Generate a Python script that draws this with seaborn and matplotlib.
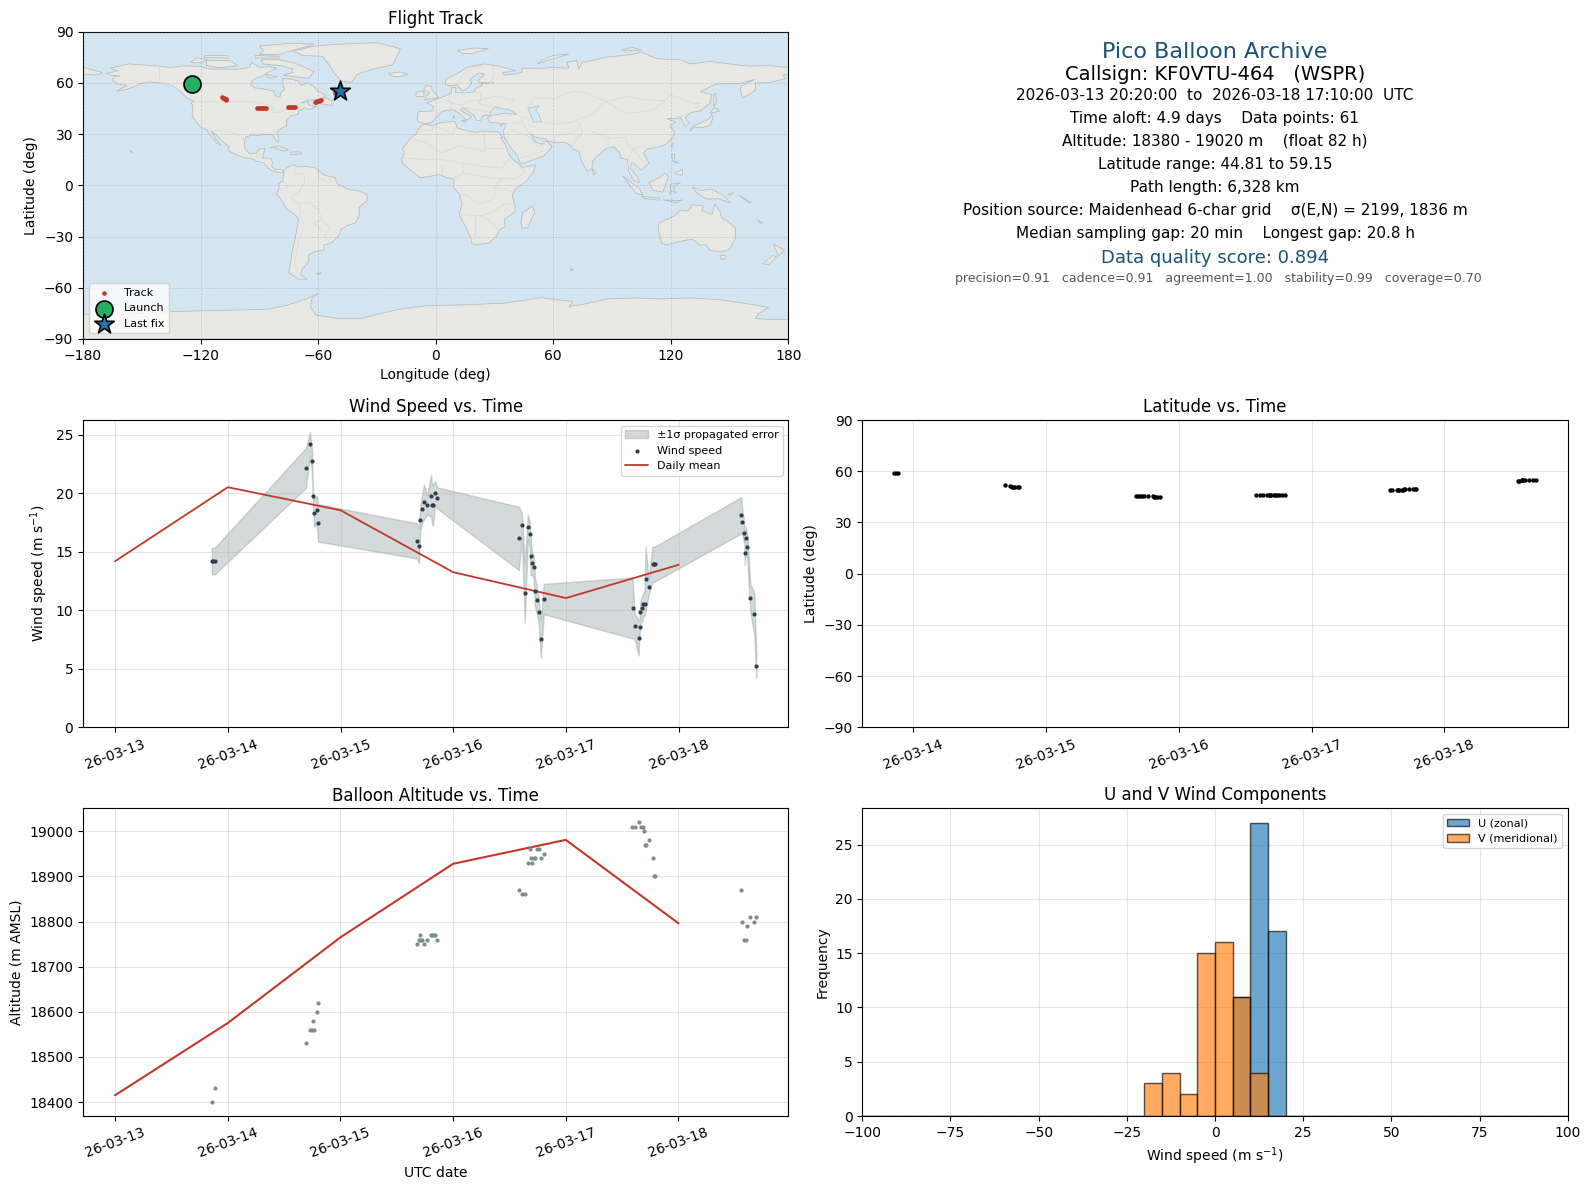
import matplotlib
matplotlib.use('Agg')
import matplotlib.dates as mdates
import matplotlib.pyplot as plt
import numpy as np
import pandas as pd
import seaborn as sns

# days since 2026-03-13 00:00 UTC
wind_days = [0.858, 0.870, 0.885, 1.693, 1.728, 1.746, 1.755, 1.764, 1.790, 1.800,
             2.678, 2.696, 2.705, 2.723, 2.741, 2.767, 2.803, 2.812, 2.820, 2.838, 2.856,
             3.581, 3.608, 3.634, 3.661, 3.678, 3.687, 3.696, 3.714, 3.723, 3.740, 3.758, 3.776, 3.802,
             4.590, 4.608, 4.643, 4.652, 4.660, 4.678, 4.687, 4.696, 4.705, 4.732, 4.767, 4.776, 4.785,
             5.555, 5.563, 5.581, 5.585, 5.595, 5.608, 5.634, 5.670, 5.687]
wind_speed = [14.23, 14.23, 14.23, 22.18, 24.23, 22.78, 19.79, 18.33, 18.59, 17.48,
              15.94, 15.51, 17.74, 18.68, 19.27, 19.02, 19.79, 19.02, 19.02, 20.04, 19.62,
              16.16, 17.27, 11.48, 17.10, 16.51, 14.63, 14.03, 13.69, 11.65, 10.88, 9.86, 7.56, 10.97,
              10.20, 8.66, 7.64, 8.58, 9.86, 10.20, 10.54, 10.54, 12.67, 11.99, 13.95, 13.95, 13.95,
              18.13, 17.53, 16.59, 14.89, 16.16, 15.40, 11.05, 9.69, 5.26]
wind_err = [1.14, 1.14, 1.14, 1.7, 1.0, 1.0, 0.5, 1.2, 1.2, 1.6,
            1.5, 1.5, 1.0, 1.2, 1.5, 0.8, 1.8, 1.7, 1.7, 1.0, 0.9,
            2.7, 1.1, 2.6, 1.05, 1.1, 1.6, 1.0, 1.0, 1.2, 1.2, 1.0, 1.65, 1.3,
            2.6, 1.1, 1.5, 0.7, 1.0, 1.1, 1.0, 1.0, 2.8, 0.7, 1.5, 1.5, 1.5,
            1.55, 1.0, 1.0, 1.0, 1.0, 1.0, 1.2, 1.8, 1.0]
mean_days = [0, 1, 2, 3, 4, 5]
wind_mean = [14.2, 20.53, 18.56, 13.26, 11.05, 13.9]
alt_mean = [18415, 18575, 18765, 18928, 18981, 18796]

alt_days = [0.858, 0.885, 1.693, 1.728, 1.746, 1.764, 1.755, 1.790, 1.800,
            2.678, 2.696, 2.705, 2.708, 2.723, 2.741, 2.767, 2.803, 2.812, 2.830, 2.838, 2.856,
            3.584, 3.610, 3.637, 3.681, 3.743, 3.761, 3.690, 3.717, 3.726, 3.664, 3.699, 3.779, 3.805,
            4.584, 4.611, 4.652, 4.664, 4.681, 4.690, 4.734, 4.700, 4.708, 4.770, 4.779, 4.788,
            5.557, 5.566, 5.637, 5.690, 5.673, 5.611, 5.584, 5.596]
altitude = [18400, 18430, 18530, 18560, 18560, 18560, 18580, 18600, 18620,
            18750, 18760, 18770, 18760, 18760, 18750, 18760, 18770, 18770, 18770, 18770, 18760,
            18870, 18860, 18860, 18960, 18960, 18960, 18940, 18940, 18940, 18930, 18930, 18940, 18950,
            19010, 19010, 19020, 19010, 19010, 19000, 18980, 18970, 18970, 18940, 18900, 18900,
            18870, 18800, 18810, 18810, 18800, 18790, 18760, 18760]

lat_days = wind_days
latitude = [59.15, 59.1, 58.9, 51.9, 51.3, 51.0, 50.9, 50.6, 50.5, 50.5,
            45.5, 45.5, 45.5, 45.5, 45.5, 45.4, 45.3, 45.1, 45.0, 44.9, 44.81,
            46.0, 46.0, 46.0, 46.0, 46.0, 46.0, 46.0, 46.0, 46.0, 46.0, 46.0, 46.0, 46.0,
            48.9, 48.9, 48.9, 49.0, 49.0, 49.1, 49.2, 49.3, 49.5, 49.5, 49.5, 49.5, 49.5,
            54.2, 54.5, 54.7, 54.8, 54.8, 54.8, 54.8, 54.8, 54.8]

track_lon = [-124.6, -124.5, -124.3,
             -109.0, -108.5, -108.0, -107.5, -107.0, -106.8,
             -91.2, -90.4, -89.6, -88.8, -88.0, -87.2, -86.5,
             -75.6, -74.8, -74.0, -73.2, -72.4, -71.6,
             -61.8, -61.1, -60.4, -59.7, -59.1, -58.6,
             -51.5, -50.5, -49.0]
track_lat = [59.1, 59.1, 59.0,
             51.6, 51.3, 50.9, 50.6, 50.3, 50.1,
             45.0, 45.0, 45.0, 45.0, 45.0, 45.0, 45.0,
             45.6, 45.6, 45.6, 45.6, 45.6, 45.7,
             48.5, 48.8, 49.1, 49.5, 49.8, 50.1,
             54.0, 54.5, 55.1]
launch_lon, launch_lat = -124.6, 59.1
last_lon, last_lat = -49.0, 55.1

hist_edges = list(range(-100, 105, 5))
hist_centers = [e + 2.5 for e in hist_edges[:-1]]
u_counts = {7.5: 11, 12.5: 27, 17.5: 17}
v_counts = {-17.5: 3, -12.5: 4, -7.5: 2, -2.5: 15, 2.5: 16, 7.5: 11, 12.5: 4}

# text, size, colour, y in pixels, x nudge in pixels
info_lines = [
    ('Pico Balloon Archive', 16, '#1a5276', 51.7, 0),
    ('Callsign: KF0VTU-464   (WSPR)', 14, 'black', 74, 0),
    ('2026-03-13 20:20:00  to  2026-03-18 17:10:00  UTC', 11, 'black', 95.4, 0),
    ('Time aloft: 4.9 days    Data points: 61', 11, 'black', 118.7, 0),
    ('Altitude: 18380 - 19020 m    (float 82 h)', 11, 'black', 141.3, 0),
    ('Latitude range: 44.81 to 59.15', 11, 'black', 164.4, 0),
    ('Path length: 6,328 km', 11, 'black', 187.7, 0),
    ('Position source: Maidenhead 6-char grid    σ(E,N) = 2199, 1836 m', 11, 'black', 210.6, 0),
    ('Median sampling gap: 20 min    Longest gap: 20.8 h', 11, 'black', 233.4, 0),
    ('Data quality score: 0.894', 13, '#1a5276', 258.2, 0),
    ('precision=0.91   cadence=0.91   agreement=1.00   stability=0.99   coverage=0.70', 9, '#555555', 279, 3),
]

# background map, rough hand traced outlines (lon, lat)
LAND = [
    # north america
    [(-168,65.5),(-164,66.5),(-162,67),(-166,68.5),(-157,71),(-150,70.5),(-141,69.7),(-135,69),(-128,70),(-120,69.5),
     (-115,68),(-108,68),(-100,68),(-95,69),(-94,72),(-90,69),(-85,69.5),(-81,68.5),(-86,66),(-88,64),(-93,62),
     (-94.5,59),(-92.5,57),(-88,56.5),(-82.5,55),(-82,52.5),(-79.5,51.5),(-79,54.5),(-77,56),(-78,58.5),(-78,62.5),
     (-73,62),(-70,61),(-69,58.5),(-65,60),(-62,57.5),(-60,55),(-56,52.5),(-59,50),(-65,50),(-69,48),(-65,49),(-65,47),
     (-61,46),(-64,44.5),(-67,45),(-70,43.5),(-70,41.7),(-74,40.5),(-76,38),(-76,35),(-79,33),(-81,31),(-80,27),
     (-80.5,25),(-82,27),(-83,29.5),(-85,29.7),(-89,30),(-90,29),(-94,29.5),(-97,28),(-97.5,25),(-97.5,22),(-95,18.5),
     (-91.5,18.5),(-90.5,21),(-87,21.5),(-88,18),(-88.5,16),(-84,15.8),(-83.3,13),(-83.7,10.8),(-81.5,9),(-79.5,9.5),
     (-77.5,8.5),(-78.5,7.5),(-80.5,7.5),(-83,8.3),(-85.5,10),(-87.5,13),(-91,14),(-94.5,16),(-97,15.8),(-102,18),
     (-105.5,20),(-105.5,22.5),(-109,26),(-112.5,30),(-114.7,31.7),(-112,26.5),(-109.5,23),(-112,25),(-115,29),
     (-117,32.5),(-120.5,34.5),(-122.5,37.5),(-124.3,40.5),(-124,46),(-124.7,48.4),(-123,49),(-127,51),(-130,54.5),
     (-134,58),(-138,59.5),(-146,60.5),(-151,59.5),(-153,58),(-158,56),(-163,55),(-157.5,58.5),(-162,59),(-165,61.5),
     (-164,63.5),(-161,64),(-166,64.5)],
    # arctic islands
    [(-80,73.5),(-72,71.5),(-67,69),(-62,66.5),(-65,62.5),(-72,63.5),(-78,64.5),(-73,66),(-73,68),(-79,70),(-88,71),(-89,73.5)],
    [(-117,73),(-105,73),(-101,70),(-110,68.8),(-117,70)],
    [(-90,76.5),(-80,76.5),(-76,78),(-65,81.5),(-62,82.7),(-75,83),(-90,81.5),(-88,79)],
    [(-92,76),(-80,75.5),(-80,74.5),(-92,74.5)],
    [(-118,76),(-106,76),(-106,74.5),(-118,74.8)],
    [(-125,72),(-120,71.5),(-116,73.5),(-122,74.5)],
    [(-87,65),(-81,63.5),(-85,62.8)],
    [(-59,47.7),(-53,46.7),(-53,49),(-56,51.5),(-58,49.5)],
    # greenland
    [(-73,78.5),(-68,76),(-58,75.5),(-54,70),(-52,66),(-48,61),(-43,60),(-40,65),(-32,68),(-22,70.5),(-20,75),(-18,80),
     (-30,83.5),(-50,82.5),(-62,81.5)],
    # caribbean, hawaii
    [(-84.5,22),(-80,23),(-75,20.5),(-78,20),(-82,22)],
    [(-74,19.5),(-69,19.5),(-68.5,18.3),(-74,18)],
    [(-156,20.5),(-155,19.2),(-155.9,19.8)],
    # south america
    [(-77.5,8.5),(-75,11),(-72,12),(-71,10.8),(-68,11),(-62,10.5),(-57,6),(-51.5,4.5),(-50,0.5),(-44,-2.5),(-40,-3),
     (-35,-5.5),(-35,-9),(-39,-13),(-39,-18),(-41,-22),(-45,-23.5),(-48.5,-26),(-49,-29),(-53,-33.5),(-57,-35),(-57,-38),
     (-62,-39),(-65,-41),(-65,-45),(-68,-49),(-69,-52),(-65.5,-55),(-70,-55),(-75,-51),(-74,-45),(-73.5,-40),(-71.5,-30),
     (-70,-20),(-71.5,-17.5),(-76,-14),(-79,-8),(-81.3,-5),(-80,-2.5),(-80,1),(-78,2.5),(-77.5,7)],
    [(-61,-51.5),(-58,-51.3),(-59,-52.2)],
    # africa
    [(-6,35.8),(-2,35),(3,36.8),(10,37.3),(11,33.5),(15,32.3),(20,31),(25,31.7),(32,31.2),(34.3,28),(33,28),(35.5,24),
     (37.5,18),(39.5,15),(43.2,11.8),(44,10.5),(51,11.8),(50,8),(46,2),(41,-2),(39,-6),(40.5,-12),(40.5,-15.5),(35,-20),
     (35.5,-24),(32.8,-26),(31,-30),(27,-34),(20,-34.8),(18.3,-34),(18,-31),(14.5,-22.5),(12,-17),(13.5,-11),(12,-5),
     (9,-1),(9.5,3.5),(5.5,4.5),(2,6.3),(-4,5),(-8,4.5),(-13,9),(-16.5,12.5),(-17.5,14.7),(-16,19),(-17,21),(-13,27.5),
     (-9.5,30.5),(-9,33)],
    [(49.5,-12),(50.5,-16),(47,-25),(44,-25),(43.5,-21),(44.5,-16)],
    # eurasia
    [(-9,37),(-9.3,38.7),(-9,43),(-2,43.5),(-1,46),(-4.5,48.3),(2,51),(4,52),(8,54),(8.2,57),(10.5,57.5),(10,54.5),(14,54),
     (19,54.5),(21,57),(24,58.5),(23,59.5),(30,60),(23,60),(21.5,61),(25,65),(22,65.8),(17.5,62),(18.5,60),(16.5,57),
     (14,55.5),(12.8,56),(11,59),(8,58),(5,59),(5,62),(12,66),(16,69),(25,71),(31,70),(41,67),(34,66),(35,64.5),(40,65),
     (44,66),(44,68.5),(54,68.5),(60,69),(68,68.5),(67,72),(72,73),(73,68),(75,72),(82,73.5),(87,75),(100,76.5),(105,78),
     (113,74),(125,73.5),(130,71),(140,72.5),(150,71),(160,69.7),(170,70),(180,69),(180,65),(177,64.5),(179,62.5),(170,60),
     (163,60),(163.5,56),(160,53),(156.7,51),(155.5,56),(156,58),(163,62),(155,59.5),(143,59.3),(135,54.7),(141,53),
     (140,48),(135,43.5),(130,42.5),(127.5,39.5),(129.5,36),(127,34.5),(126,37.5),(125,39.6),(121.5,39),(118,39),
     (122.5,37),(119.5,35),(122,31),(121,28),(117,23.5),(113,22),(108.5,21.5),(106,19),(109,13),(105,8.8),(103,11),
     (100,13.5),(99.5,9.5),(103,5),(104,1.5),(101,3),(98.5,8),(98,15),(94.5,16),(94,19),(91,22.5),(87,21.5),(82,16.5),
     (80,14),(79.8,10),(77.5,8),(74.5,14),(73,20),(70,21),(69,23),(66.5,25),(61,25),(57,26),(56.5,27),(51,28),(48.5,30),
     (50,26.5),(51.5,25),(54,24),(56.5,26),(59.5,22.5),(55,17),(45,13),(43,13),(42,17),(39,21),(35,28),(34.5,31.5),(36,36),
     (31,36.5),(27.5,37),(26.5,39.5),(29,41),(35,42),(41.5,41.5),(38,44),(33,45),(30.5,46),(28,43),(28,41.2),(24,40.8),
     (23,38),(21,38),(19.5,41),(14,45.5),(12.5,44),(16,41.7),(18.5,40),(16,38),(12,42),(9,44.3),(3.5,43.3),(0,39.5),
     (-2,36.8),(-5.5,36)],
    [(-180,69),(-175,67.5),(-170,66),(-173,64.5),(-180,65)],
    [(-5.5,50),(1.5,51.3),(0,53.5),(-2,56),(-2,57.7),(-5,58.6),(-6,56),(-3,54),(-5,52)],
    [(-10,52),(-6,52),(-6,55),(-10,54.5)],
    [(-24,65.5),(-18,66.3),(-14,65),(-19,63.4),(-22.5,64)],
    [(11,79),(20,80.3),(27,80),(18,77),(14,77)],
    [(52,71),(57,73),(68,76.8),(60,76),(54,73)],
    [(95,79),(105,79),(100,81)],
    [(130,31.5),(132,34),(136,33.7),(140,35),(141.5,39),(141,41.5),(139.7,39),(136.5,37),(132,35),(130,33)],
    [(140,42),(145,43.5),(142,45.5)],
    [(142,46),(143.5,49),(143,54),(142,53)],
    [(120,23),(121.5,25),(121,22)],
    [(80,9.5),(82,7.5),(80.5,6)],
    [(9,41),(9.7,40),(9,39)],
    [(13,38),(15.5,38),(15,36.8)],
    [(33,35),(34.5,35.6),(33,34.6)],
    # south east asia, pacific
    [(120.5,18),(122,18),(122,14),(124,13),(121,13.8)],
    [(122,7),(126,9.5),(126,6),(124,6)],
    [(109,1.5),(114,4.5),(117,7),(119,5),(117.5,1),(116,-4),(111,-3)],
    [(95.5,5.5),(104,-2),(106,-6),(102,-4.5)],
    [(105.5,-6.5),(114.5,-7.5),(114,-8.7),(106,-7.7)],
    [(119.5,-5.5),(120,0.5),(125,1.5),(121,-1),(123,-5),(120.5,-3)],
    [(131,-1),(135,-3),(141,-2.5),(147,-6),(150.5,-10.5),(145,-8),(138,-8),(133,-4)],
    [(116,-8.5),(124,-9),(126,-8.5),(123,-10.2)],
    [(149,-5.5),(152,-4.2),(151,-6)],
    [(155,-6),(161,-10),(160,-10.5)],
    [(164,-20),(167,-22),(166,-22.3)],
    [(114,-22),(113.5,-26),(115.5,-34),(118,-35),(124,-33),(131,-31.5),(135,-35),(138,-35),(140,-38),(146,-39),(150,-37.5),
     (153,-31),(153,-25),(149,-21),(146,-19),(145,-15),(142.5,-11),(141,-17),(136,-15),(136.5,-12),(131,-11.5),(129,-15),
     (125,-14.5),(122,-18),(118,-20)],
    [(145,-41),(148,-41),(148,-43),(146,-43.5)],
    [(172.5,-34.5),(178,-38),(175,-41.5),(174,-39)],
    [(172,-41),(174,-42),(170,-46.5),(167,-46)],
    [(68.7,-49),(70.5,-49.3),(69,-50)],
    # antarctica
    [(-180,-90),(-180,-75.5),(-160,-75.5),(-150,-75),(-135,-74),(-120,-73.5),(-100,-73),(-85,-72.5),(-75,-70),(-66,-66.5),
     (-60,-63.3),(-63,-66),(-64,-71),(-61,-76),(-50,-78),(-38,-78),(-28,-75),(-18,-72.5),(-5,-70.5),(15,-70),(35,-69),
     (54,-65.8),(62,-67),(70,-68),(68,-71),(76,-69.5),(88,-66.5),(102,-66),(115,-66.5),(130,-66),(145,-67),(160,-69.5),
     (170,-71.5),(165,-75),(163,-78),(170,-78.5),(180,-78.5),(180,-90)],
]
LAKES = [
    [(47,45),(53,46.5),(51,44),(53,41),(54,37),(50,37),(49,40)],
]
BORDERS = [
    [(-123,49),(-95,49),(-89,48),(-83,46),(-82.5,42.5),(-79,43),(-75,45),(-71,45),(-67.5,47),(-67,45)],
    [(-141,69.7),(-141,60),(-135,58.5),(-130,55)],
    [(-117,32.5),(-106,31.7),(-101,29.5),(-97.5,26)],
    [(-92,14.5),(-91,17.5),(-89,18)],
    [(-72,12),(-72,7),(-67,6),(-67,1),(-70,-4),(-74,-7),(-70,-11),(-69,-16),(-70,-18)],
    [(-60,8),(-60,5),(-56,2),(-52,2.5)],
    [(-70,-11),(-65,-10),(-60,-14),(-58,-20),(-54,-25),(-57,-30),(-53,-33.5)],
    [(-69,-18),(-67,-23),(-70,-33),(-72,-45),(-70,-52)],
    [(-58,-20),(-62,-22),(-58,-27)],
    [(-80,-3),(-75,-1),(-78,2.5)],
    [(-9,33),(-2,32),(-1,35),(3,33),(9,30),(10,34)],
    [(-13,27.5),(-5,25),(3,19),(12,23),(25,20),(25,31.7)],
    [(25,22),(36,22)],
    [(-16.5,16),(-5,15),(3,15),(14,13),(24,11),(34,10),(36,14),(39,15)],
    [(3,12),(3,6.3)],
    [(9.5,4),(14,7),(14,13)],
    [(14,7),(24,5),(30,4),(34,4),(41,4),(46,8),(43,11)],
    [(12,-5),(16,-6),(22,-11),(30,-8),(30,-1),(34,4)],
    [(30,-1),(40,-4)],
    [(12,-17),(23,-18),(30,-15),(35,-11),(40,-11)],
    [(20,-18),(20,-29),(17,-29)],
    [(23,-18),(29,-22),(32,-26)],
    [(-1.5,43.3),(3,42.5)],
    [(2.5,51),(6,49.5),(8,48),(7,44)],
    [(7,54),(7,50),(8,48),(13,47),(16,49),(23,50),(23,54),(19,54.5)],
    [(23,50),(30,52),(40,50),(38,47)],
    [(23,50),(22,48),(29,46)],
    [(13,46),(22,44),(28,43)],
    [(28,60),(30,65),(29,69.5)],
    [(12,60),(14,65),(20,69),(25,69)],
    [(47,45),(50,51),(61,51),(70,55),(77,54),(87,49)],
    [(87,49),(98,52),(107,50),(117,49.5),(120,53),(127,50),(131,48),(135,48),(131,43)],
    [(87,49),(80,42),(74,39),(70,37),(61,36),(54,37)],
    [(87,49),(97,42),(111,44),(117,49.5)],
    [(74,37),(72,32),(67,30),(61,29),(61,25)],
    [(74,34),(75,31),(70,24),(69,23)],
    [(79,32),(88,27.5),(97,28),(98,24),(101,21),(105,23),(108,21.5)],
    [(88,27.5),(88,22),(92,21)],
    [(101,21),(105,15),(107,12)],
    [(98,11),(99,18),(101,21)],
    [(36,36),(44,37),(48,30)],
    [(44,37),(44,40),(49,39)],
    [(35,29.5),(39,32),(47,29),(52,23),(56,24)],
    [(43,16),(52,19),(55,20)],
    [(124,40),(130,42.5)],
    [(141,-2.5),(141,-9)],
]


def to_dates(days):
    return pd.Timestamp('2026-03-13') + pd.to_timedelta(days, unit='D')


def date_axis(ax):
    ax.xaxis.set_major_locator(mdates.DayLocator())
    ax.xaxis.set_major_formatter(mdates.DateFormatter('%y-%m-%d'))
    ax.tick_params(axis='x', labelrotation=20)


def px_axes(fig, left, top, right, bottom):
    W, H = fig.get_size_inches() * fig.dpi
    return fig.add_axes([left / W, 1 - bottom / H, (right - left) / W, (bottom - top) / H])


sns.set_style('ticks', rc={'axes.edgecolor': 'black', 'text.color': 'black', 'axes.labelcolor': 'black',
                           'xtick.color': 'black', 'ytick.color': 'black', 'axes.axisbelow': 'line',
                           'xtick.direction': 'out', 'ytick.direction': 'out',
                           'grid.color': '#b0b0b0', 'grid.linewidth': 0.8})
plt.rcParams['font.family'] = ['DejaVu Sans']

fig = plt.figure(figsize=(15.89, 11.89), dpi=100)

L1, R1 = 83, 788.3
L2, R2 = 862.3, 1567.7
ax_map = px_axes(fig, L1, 31.5, R1, 339)
ax_info = px_axes(fig, L2, 31.5, R2, 339)
ax_wind = px_axes(fig, L1, 420, R1, 727.3)
ax_lat = px_axes(fig, L2, 420, R2, 727.3)
ax_alt = px_axes(fig, L1, 808.3, R1, 1116)
ax_hist = px_axes(fig, L2, 808.3, R2, 1116)

GRID_ALPHA = 0.33

# flight track map ================
ax_map.set_facecolor('#d4e6f1')
for poly in LAND:
    xs, ys = zip(*poly)
    ax_map.fill(xs, ys, facecolor='#e8e8e4', edgecolor='#b8bcbe', linewidth=0.6, zorder=1)
for poly in LAKES:
    xs, ys = zip(*poly)
    ax_map.fill(xs, ys, facecolor='#d4e6f1', edgecolor='#b8bcbe', linewidth=0.5, zorder=1.1)
for line in BORDERS:
    xs, ys = zip(*line)
    ax_map.plot(xs, ys, color='#d9dad7', linewidth=0.5, zorder=1.2)
sns.scatterplot(x=track_lon, y=track_lat, ax=ax_map, color='#c0392b', s=11, linewidth=0, label='Track', zorder=3)
sns.scatterplot(x=[launch_lon], y=[launch_lat], ax=ax_map, color='#27ae60', s=150, marker='o', edgecolor='black',
                linewidth=1.2, label='Launch', zorder=4)
sns.scatterplot(x=[last_lon], y=[last_lat], ax=ax_map, color='#1f77b4', s=220, marker='*', edgecolor='black',
                linewidth=1.2, label='Last fix', zorder=4)
ax_map.set_xlim(-180, 180)
ax_map.set_ylim(-90, 90)
ax_map.set_xticks(np.arange(-180, 181, 60))
ax_map.set_yticks(np.arange(-90, 91, 30))
ax_map.grid(True, linestyle='--', alpha=0.3, color='gray', linewidth=0.5, zorder=2)
ax_map.set_axisbelow(False)
ax_map.set_xlabel('Longitude (deg)')
ax_map.set_ylabel('Latitude (deg)')
ax_map.set_title('Flight Track', pad=5.3)
ax_map.legend(loc='lower left', fontsize=8)

# summary text ================
ax_info.axis('off')
for txt, size, col, ypx, dx in info_lines:
    ax_info.text(0.5 + dx / (R2 - L2), 1 - (ypx - 31.5) / 307.5, txt, transform=ax_info.transAxes, ha='center',
                 va='center', fontsize=size, color=col)

# wind speed ================
w_t = to_dates(np.array(wind_days))
w_v = np.array(wind_speed)
w_e = np.array(wind_err)
ax_wind.fill_between(w_t, w_v - w_e, w_v + w_e, color='#7f8c8d', alpha=0.33, label='±1σ propagated error')
sns.scatterplot(x=w_t, y=w_v, ax=ax_wind, color='#2c3e50', s=9, linewidth=0, label='Wind speed', zorder=3)
sns.lineplot(x=to_dates(np.array(mean_days)), y=wind_mean, ax=ax_wind, color='#c0392b', linewidth=1.3,
             errorbar=None, label='Daily mean', zorder=2)
ax_wind.set_ylim(bottom=0)
date_axis(ax_wind)
ax_wind.grid(True, alpha=GRID_ALPHA)
ax_wind.set_ylabel('Wind speed (m s$^{-1}$)')
ax_wind.set_title('Wind Speed vs. Time')
ax_wind.legend(loc='upper right', fontsize=8)

# latitude ================
sns.scatterplot(x=to_dates(np.array(lat_days)), y=latitude, ax=ax_lat, color='black', s=10, linewidth=0)
ax_lat.set_ylim(-90, 90)
ax_lat.set_yticks(np.arange(-90, 91, 30))
date_axis(ax_lat)
ax_lat.grid(True, alpha=GRID_ALPHA)
ax_lat.set_ylabel('Latitude (deg)')
ax_lat.set_title('Latitude vs. Time')

# altitude ================
sns.scatterplot(x=to_dates(np.array(alt_days)), y=altitude, ax=ax_alt, color='#7f8c8d', s=9, linewidth=0, zorder=3)
sns.lineplot(x=to_dates(np.array(mean_days)), y=alt_mean, ax=ax_alt, color='#c0392b', linewidth=1.5, errorbar=None)
date_axis(ax_alt)
ax_alt.grid(True, alpha=GRID_ALPHA)
ax_alt.set_xlabel('UTC date')
ax_alt.set_ylabel('Altitude (m AMSL)')
ax_alt.set_title('Balloon Altitude vs. Time', pad=5.3)

# u and v histogram ================
edge = (0, 0, 0, 0.65)
sns.histplot(x=hist_centers, weights=[u_counts.get(c, 0) for c in hist_centers], bins=hist_edges, ax=ax_hist,
             color='#1f77b4', alpha=0.65, edgecolor=edge, linewidth=1, label='U (zonal)')
sns.histplot(x=hist_centers, weights=[v_counts.get(c, 0) for c in hist_centers], bins=hist_edges, ax=ax_hist,
             color='#ff7f0e', alpha=0.65, edgecolor=edge, linewidth=1, label='V (meridional)')
ax_hist.set_xlim(-100, 100)
ax_hist.grid(True, alpha=GRID_ALPHA)
ax_hist.set_axisbelow(True)
ax_hist.set_xlabel('Wind speed (m s$^{-1}$)')
ax_hist.set_ylabel('Frequency')
ax_hist.set_title('U and V Wind Components')
ax_hist.legend(loc='upper right', fontsize=8)

for ax in (ax_wind, ax_lat):
    ax.set_xlabel('')

fig.savefig('out.png', dpi=100)
